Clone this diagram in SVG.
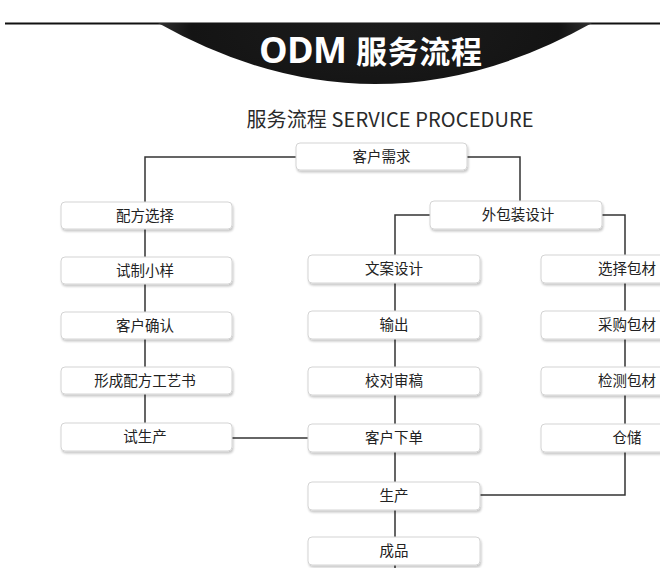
<svg xmlns="http://www.w3.org/2000/svg" width="660" height="568" viewBox="0 0 660 568">
<defs>
  <radialGradient id="bannerGrad" cx="375" cy="30" r="230" gradientUnits="userSpaceOnUse" gradientTransform="translate(375 30) scale(1 0.35) translate(-375 -30)">
    <stop offset="0" stop-color="#1c1c1c"/>
    <stop offset="0.8" stop-color="#141414"/>
    <stop offset="1" stop-color="#3a3a3a"/>
  </radialGradient>
  <filter id="shadow" x="-10%" y="-30%" width="120%" height="170%">
    <feDropShadow dx="1" dy="2" stdDeviation="1.2" flood-color="#000" flood-opacity="0.22"/>
  </filter>
</defs>
<style>
  .node rect { fill: #ffffff; stroke: #d4d4d4; stroke-width: 1; filter: url(#shadow); }
  .node text { font-family: "Noto Sans CJK SC", "Noto Sans", sans-serif; font-size: 14.5px; fill: #222222; text-anchor: middle; }
  .conn { fill: none; stroke: #333333; stroke-width: 1.5; }
</style>
<rect x="0" y="0" width="660" height="568" fill="#ffffff"/>
<g id="banner">
  <line x1="5" y1="23.5" x2="660" y2="23.5" stroke="#111111" stroke-width="2"/>
  <path d="M158,23 Q375,145 592,23 Z" fill="url(#bannerGrad)"/>
  <text y="63" fill="#ffffff" font-weight="bold"><tspan x="259" font-family="Open Sans, Noto Sans, sans-serif" font-size="36" textLength="88">ODM</tspan><tspan x="356" font-family="Noto Sans CJK SC, sans-serif" font-size="31" textLength="126">服务流程</tspan></text>
</g>
<g id="subtitle">
  <text x="390" y="127" font-family="Noto Sans CJK SC, Noto Sans, sans-serif" font-size="20" fill="#2a2a2a" text-anchor="middle" textLength="287">服务流程 SERVICE PROCEDURE</text>
</g>
<g id="connectors">
  <path class="conn" d="M296,157 H145 V423"/>
  <path class="conn" d="M467,157 H520 V201"/>
  <path class="conn" d="M430,215 H395 V568"/>
  <path class="conn" d="M602,215 H625 V495 H480"/>
  <path class="conn" d="M232,438 H308"/>
</g>
<g id="n-kehuxuqiu" class="node"><rect x="296" y="143" width="171" height="27" rx="4"/><text x="381.5" y="161.5">客户需求</text></g>
<g id="n-peifangxuanze" class="node"><rect x="61" y="202" width="171" height="27" rx="4"/><text x="145" y="220.5">配方选择</text></g>
<g id="n-shizhixiaoyang" class="node"><rect x="61" y="257" width="171" height="27" rx="4"/><text x="145" y="275.5">试制小样</text></g>
<g id="n-kehuqueren" class="node"><rect x="61" y="312" width="171" height="27" rx="4"/><text x="145" y="330.5">客户确认</text></g>
<g id="n-gongyishu" class="node"><rect x="61" y="367" width="171" height="27" rx="4"/><text x="145" y="385.5">形成配方工艺书</text></g>
<g id="n-shishengchan" class="node"><rect x="61" y="423" width="171" height="28" rx="4"/><text x="145" y="442">试生产</text></g>
<g id="n-waibaozhuang" class="node"><rect x="430" y="201" width="172" height="28" rx="4"/><text x="518" y="220">外包装设计</text></g>
<g id="n-wenan" class="node"><rect x="308" y="255" width="172" height="28" rx="4"/><text x="394" y="274">文案设计</text></g>
<g id="n-shuchu" class="node"><rect x="308" y="311" width="172" height="28" rx="4"/><text x="394" y="330">输出</text></g>
<g id="n-jiaodui" class="node"><rect x="308" y="367" width="172" height="28" rx="4"/><text x="394" y="386">校对审稿</text></g>
<g id="n-kehuxiadan" class="node"><rect x="308" y="424" width="172" height="28" rx="4"/><text x="394" y="443">客户下单</text></g>
<g id="n-shengchan" class="node"><rect x="308" y="482" width="172" height="28" rx="4"/><text x="394" y="501">生产</text></g>
<g id="n-chengpin" class="node"><rect x="308" y="537" width="172" height="28" rx="4"/><text x="394" y="556">成品</text></g>
<g id="n-xuanzebaocai" class="node"><rect x="541" y="255" width="172" height="28" rx="4"/><text x="627" y="274">选择包材</text></g>
<g id="n-caigou" class="node"><rect x="541" y="311" width="172" height="28" rx="4"/><text x="627" y="330">采购包材</text></g>
<g id="n-jiance" class="node"><rect x="541" y="367" width="172" height="28" rx="4"/><text x="627" y="386">检测包材</text></g>
<g id="n-cangchu" class="node"><rect x="541" y="424" width="172" height="28" rx="4"/><text x="627" y="443">仓储</text></g>
</svg>
